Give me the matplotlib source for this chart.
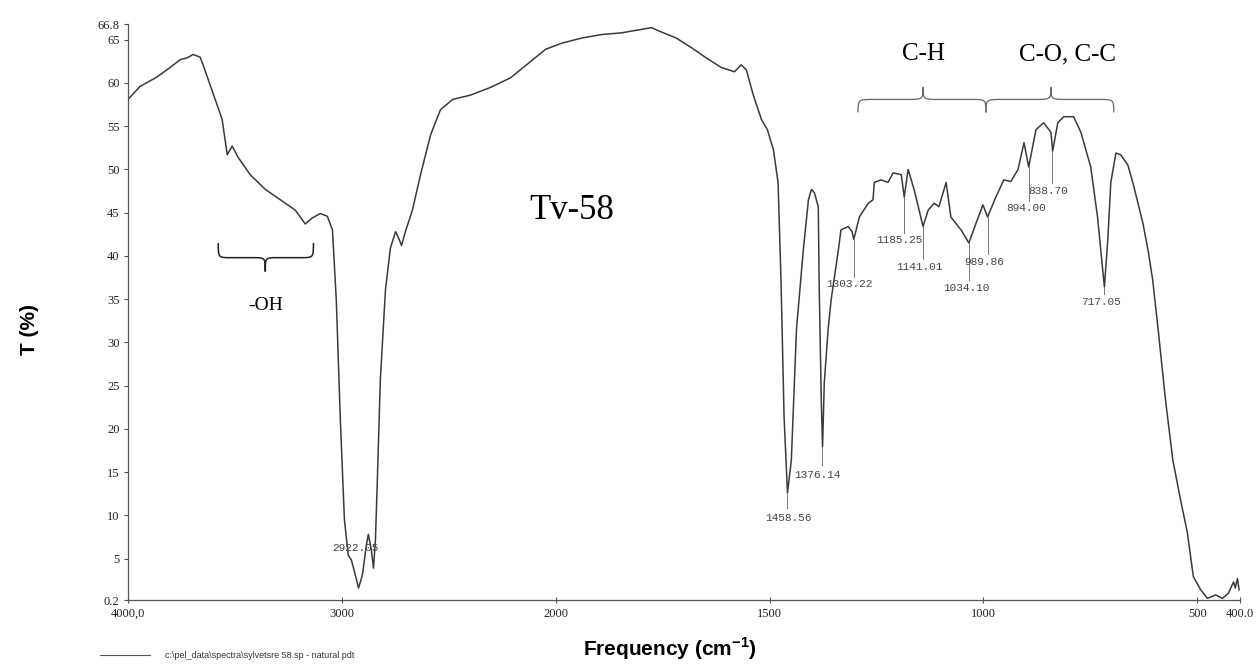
import numpy as np
import matplotlib
matplotlib.use('Agg')
from matplotlib import pyplot as plt
from matplotlib.path import Path
from matplotlib.patches import PathPatch

# spectrum: wavenumber (cm-1) and transmittance (%)
wavenumber = [4000, 3944, 3864, 3803, 3756, 3724, 3696, 3663, 3649, 3625, 3592, 3560,
              3536, 3513, 3485, 3429, 3358, 3288, 3218, 3171, 3138, 3101, 3068, 3044,
              3026, 3007, 2988, 2970, 2955, 2937, 2922, 2904, 2885, 2876, 2862, 2852,
              2843, 2834, 2820, 2796, 2773, 2749, 2735, 2721, 2703, 2670, 2632, 2585,
              2539, 2482, 2398, 2304, 2211, 2117, 2047,
              1986, 1939, 1893, 1846, 1799, 1776, 1753, 1718, 1683, 1648, 1613, 1582,
              1566, 1554, 1538, 1519, 1505, 1491, 1480, 1473, 1466, 1458, 1449, 1437,
              1421, 1409, 1402, 1395, 1386, 1384, 1379, 1376, 1372, 1363, 1356, 1339,
              1333, 1316, 1307, 1303, 1290, 1269, 1258, 1255, 1239, 1223, 1211, 1192,
              1185, 1176, 1162, 1141, 1129, 1115, 1104, 1087, 1076, 1052, 1034, 1017,
              1001, 990, 971, 952, 936, 919, 905, 894, 877, 859, 842, 838, 826, 812,
              789, 772, 749, 733, 717, 709, 702, 690, 679, 662, 649, 627, 614, 604,
              592, 574, 557, 539, 523, 509, 492, 476, 457, 441, 427, 415, 411, 406, 402]
transmittance = [58.1, 59.6, 60.7, 61.8, 62.7, 62.9, 63.3, 63.0, 62.1, 60.4, 58.1, 55.8,
                 51.7, 52.7, 51.4, 49.4, 47.7, 46.5, 45.3, 43.7, 44.4, 44.9, 44.6, 43.0,
                 34.9, 21.0, 9.5, 5.4, 4.8, 3.1, 1.6, 3.1, 6.6, 7.8, 6.0, 3.9,
                 7.1, 14.1, 25.7, 36.1, 40.9, 42.8, 42.1, 41.2, 42.8, 45.3, 49.4, 54.0,
                 56.9, 58.1, 58.6, 59.5, 60.6, 62.5, 63.9,
                 64.6, 65.2, 65.6, 65.8, 66.2, 66.4, 65.9, 65.2, 64.1, 62.9, 61.8, 61.3,
                 62.1, 61.5, 58.6, 55.8, 54.6, 52.3, 48.5, 36.9, 21.4, 12.6, 16.4, 31.5,
                 40.7, 46.5, 47.7, 47.3, 45.7, 36.9, 23.3, 17.9, 25.3, 31.5, 34.9, 40.7,
                 43.0, 43.4, 42.8, 41.9, 44.5, 46.1, 46.5, 48.5, 48.8, 48.5, 49.6, 49.4,
                 46.8, 50.0, 47.7, 43.4, 45.3, 46.1, 45.7, 48.5, 44.5, 43.0, 41.5, 43.8,
                 45.9, 44.5, 46.8, 48.8, 48.6, 50.0, 53.1, 50.3, 54.6, 55.4, 54.3, 52.1, 55.4, 56.1,
                 56.1, 54.3, 50.3, 44.5, 36.4, 41.9, 48.5, 51.9, 51.7, 50.5, 48.2, 43.8, 40.4, 37.2,
                 31.8, 23.3, 16.4, 11.8, 8.0, 2.9, 1.4, 0.4, 0.8, 0.4, 1.0, 2.3, 1.6, 2.7, 1.4]

peak_labels = ['2922.05', '1458.56', '1376.14', '1303.22', '1185.25', '1141.01',
               '1034.10', '989.86', '894.00', '838.70', '717.05']
peak_depth = [1.6, 12.6, 17.9, 41.9, 46.8, 43.4, 41.5, 44.5, 50.3, 52.1, 36.4]

x_ticks = [4000, 3000, 2000, 1500, 1000, 500, 400]
x_ticklabels = ['4000,0', '3000', '2000', '1500', '1000', '500', '400.0']
y_ticks = [0.2, 5, 10, 15, 20, 25, 30, 35, 40, 45, 50, 55, 60, 65, 66.8]
y_ticklabels = ['0.2', '5', '10', '15', '20', '25', '30', '35', '40', '45', '50', '55', '60', '65', '66.8']


def fwd(x):
    x = np.asarray(x, dtype=float)
    return np.where(x <= 2000, x, 2000 + (x - 2000) / 2)


def inv(u):
    u = np.asarray(u, dtype=float)
    return np.where(u <= 2000, u, 2000 + 2 * (u - 2000))


def brace(ax, x0, x1, xm, y_end, y_mid, y_tip, **kw):
    # curly brace, ends at y_end, bar at y_mid, point at y_tip
    q0 = (x0 - xm) * 0.25
    q1 = (xm - x1) * 0.25
    verts = [(x0, y_end), (x0, y_mid), (x0, y_mid), (x0 - q0, y_mid),
             (xm + q0, y_mid),
             (xm, y_mid), (xm, y_mid), (xm, y_tip),
             (xm, y_mid), (xm, y_mid), (xm - q1, y_mid),
             (x1 + q1, y_mid),
             (x1, y_mid), (x1, y_mid), (x1, y_end)]
    codes = [Path.MOVETO, Path.CURVE4, Path.CURVE4, Path.CURVE4,
             Path.LINETO,
             Path.CURVE4, Path.CURVE4, Path.CURVE4,
             Path.CURVE4, Path.CURVE4, Path.CURVE4,
             Path.LINETO,
             Path.CURVE4, Path.CURVE4, Path.CURVE4]
    ax.add_patch(PathPatch(Path(verts, codes), fill=False, clip_on=False, **kw))


plt.rcParams['mathtext.fontset'] = 'custom'
plt.rcParams['mathtext.bf'] = 'Liberation Sans:bold'
plt.rcParams['mathtext.rm'] = 'Liberation Sans:bold'

fig = plt.figure(figsize=(12.6, 6.72), dpi=100)
ax = fig.add_axes([0.1016, 0.107, 0.8825, 0.857])
ax.set_xscale('function', functions=(fwd, inv))
ax.plot(wavenumber, transmittance, color='#3a3a3a', lw=1.1)
ax.set_xlim(4000, 400)
ax.set_ylim(0.2, 66.8)

ax.set_xticks(x_ticks)
ax.set_xticklabels(x_ticklabels)
ax.set_yticks(y_ticks)
ax.set_yticklabels(y_ticklabels)
ax.xaxis.set_minor_locator(matplotlib.ticker.NullLocator())
for lab in ax.get_xticklabels() + ax.get_yticklabels():
    lab.set_family('Liberation Serif')
    lab.set_fontsize(9)
    lab.set_color('#222222')
ax.tick_params(axis='both', length=3, width=0.8, color='#555555', pad=3)
ax.tick_params(axis='x', direction='inout', length=5, pad=3)
for s in ['top', 'right']:
    ax.spines[s].set_visible(False)
for s in ['left', 'bottom']:
    ax.spines[s].set_color('#555555')
    ax.spines[s].set_linewidth(0.9)

ax.set_ylabel('T (%)', fontsize=15, fontweight='bold', family='Liberation Sans')
ax.set_xlabel(r'Frequency (cm$^{\mathregular{-1}}$)', fontsize=15, fontweight='bold',
              family='Liberation Sans')
ax.xaxis.set_label_coords(0.487, -0.085, transform=ax.transAxes)
ax.xaxis.label.set_va('center')
ax.yaxis.set_label_coords(-0.08, 0.47)

# peak labels (text position, line end)
label_pos = [(2937, 6.2, 'center', None),
             (1456, 9.7, 'center', 10.8),
             (1442, 14.7, 'left', 15.8),
             (1367, 36.7, 'left', 37.6),
             (1251, 41.8, 'left', 42.7),
             (1204, 38.7, 'left', 39.6),
             (1094, 36.3, 'left', 37.2),
             (1045, 39.3, 'left', 40.2),
             (947, 45.5, 'left', 46.4),
             (896, 47.5, 'left', 48.4),
             (772, 34.7, 'left', 35.6)]
for txt, depth, (lx, ly, ha, lend) in zip(peak_labels, peak_depth, label_pos):
    ax.text(lx, ly, txt, ha=ha, va='center', family='Liberation Mono', fontsize=8, color='#444444')
    if lend is not None:
        pk = float(txt)
        ax.plot([pk, pk], [depth, lend], color='#777777', lw=0.7)

# band assignments
brace(ax, 1293, 994, 1141, 56.6, 58.1, 59.5, color='#666666', lw=0.9)
brace(ax, 994, 695, 842, 56.6, 58.1, 59.5, color='#666666', lw=0.9)
brace(ax, 3578, 3133, 3358, 41.5, 39.8, 38.2, color='#222222', lw=1.1)
ax.text(1141, 63.3, 'C-H', ha='center', va='center', family='Liberation Serif', fontsize=18)
ax.text(803, 63.3, 'C-O, C-C', ha='center', va='center', family='Liberation Serif', fontsize=18)
ax.text(3358, 34.3, '-OH', ha='center', va='center', family='Liberation Serif', fontsize=14)
ax.text(1963, 45.3, 'Tv-58', ha='center', va='center', family='Liberation Serif', fontsize=25)

# file legend at the bottom
fig.add_artist(plt.Line2D([100 / 1260, 150 / 1260], [1 - 655 / 672, 1 - 655 / 672],
                          color='#555555', lw=0.8))
fig.text(165 / 1260, 1 - 655 / 672, r'c:\pel_data\spectra\sylvetsre 58.sp - natural pdt',
         fontsize=6.5, family='Liberation Sans', va='center', color='#333333')

fig.savefig('out.png', dpi=100)
